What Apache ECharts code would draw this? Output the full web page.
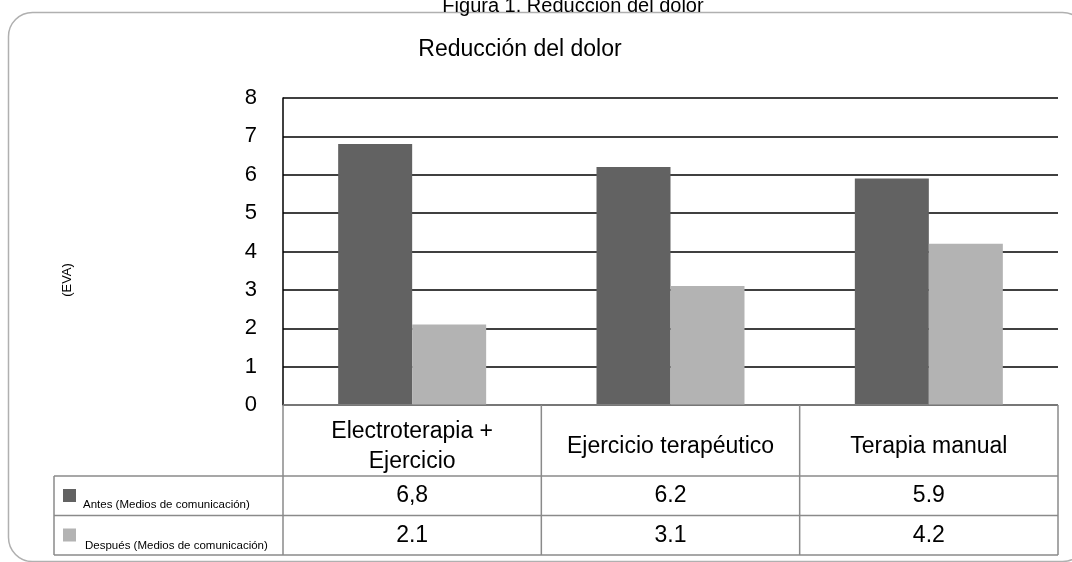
<!DOCTYPE html>
<html>
<head>
<meta charset="utf-8">
<script src="https://cdn.jsdelivr.net/npm/echarts@6/dist/echarts.min.js"></script>
<style>html,body{margin:0;padding:0;background:#fff;}#c{width:1072px;height:562px;}</style>
</head>
<body>
<div id="c"></div>
<script>
const categories = ['Electroterapia +\nEjercicio', 'Ejercicio terapéutico', 'Terapia manual'];
const antes = [6.8, 6.2, 5.9];
const despues = [2.1, 3.1, 4.2];
const antesText = ['6,8', '6.2', '5.9'];
const despuesText = ['2.1', '3.1', '4.2'];
const seriesNames = ['Antes (Medios de comunicación)', 'Después (Medios de comunicación)'];
const yMin = 0, yMax = 8, yStep = 1;

const FONT = '"Liberation Sans", Arial, sans-serif';
const DARK = '#626262', LIGHT = '#b3b3b3', TBL = '#8a8a8a';

const chart = echarts.init(document.getElementById('c'), null, {renderer: 'canvas'});
chart.setOption({
  animation: false,
  textStyle: {fontFamily: FONT},
  grid: {left: 283, right: 14, top: 98, bottom: 157},
  xAxis: {
    type: 'category', data: categories,
    axisLine: {show: false}, axisTick: {show: false}, axisLabel: {show: false}
  },
  yAxis: {
    type: 'value', min: yMin, max: yMax, interval: yStep,
    axisLine: {show: true, lineStyle: {color: '#000', width: 1.5}},
    axisTick: {show: false},
    axisLabel: {color: '#000', fontSize: 22, margin: 26, fontFamily: FONT},
    splitLine: {show: true, lineStyle: {color: '#000', width: 1.5}}
  },
  series: [
    {name: seriesNames[0], type: 'bar', data: antes, barWidth: 74, barGap: '0%', itemStyle: {color: DARK}, z: 3},
    {name: seriesNames[1], type: 'bar', data: despues, barWidth: 74, barGap: '0%', itemStyle: {color: LIGHT}, z: 3}
  ]
});

// Build table and decorations from axis coordinates
const xs = categories.map((c, i) => chart.convertToPixel({xAxisIndex: 0}, i));
const band = xs[1] - xs[0];
const x0 = xs[0] - band / 2;
const xEnd = xs[xs.length - 1] + band / 2;
const y0 = chart.convertToPixel({yAxisIndex: 0}, yMin);
const rowH1 = 71, rowH = 39.5;
const r1 = y0 + rowH1, r2 = r1 + rowH, r3 = r2 + rowH;
const tableLeft = 54;

const g = [];
const line = (xa, ya, xb, yb, color, w) => g.push({type: 'line', z: 50, shape: {x1: xa, y1: ya, x2: xb, y2: yb}, style: {stroke: color, lineWidth: w}});

// outer rounded frame
g.push({type: 'rect', z: 1, shape: {x: 8.5, y: 12.5, width: 1078, height: 549, r: 24}, style: {fill: 'none', stroke: '#b0b0b0', lineWidth: 1.5}});

// table lines
line(x0, y0, xEnd, y0, TBL, 1.5);
line(tableLeft, r1, xEnd, r1, TBL, 1.5);
line(tableLeft, r2, xEnd, r2, TBL, 1.5);
line(tableLeft, r3, xEnd, r3, TBL, 1.5);
line(tableLeft, r1, tableLeft, r3, TBL, 1.5);
for (let i = 0; i <= categories.length; i++) {
  const x = x0 + i * band;
  line(x, y0, x, r3, TBL, 1.5);
}
// table text
categories.forEach((c, i) => {
  g.push({type: 'text', z: 51, x: xs[i], y: y0 + 42, style: {text: c, fill: '#000', font: '23px ' + FONT, align: 'center', verticalAlign: 'middle', lineHeight: 30}});
  g.push({type: 'text', z: 51, x: xs[i], y: (r1 + r2) / 2, style: {text: antesText[i], fill: '#000', font: '23px ' + FONT, align: 'center', verticalAlign: 'middle'}});
  g.push({type: 'text', z: 51, x: xs[i], y: (r2 + r3) / 2, style: {text: despuesText[i], fill: '#000', font: '23px ' + FONT, align: 'center', verticalAlign: 'middle'}});
});
// legend keys in table
g.push({type: 'rect', z: 51, shape: {x: 63, y: r1 + 13, width: 13, height: 13}, style: {fill: DARK}});
g.push({type: 'text', z: 51, x: 83, y: r1 + 35, style: {text: seriesNames[0], fill: '#000', font: '11.5px ' + FONT, align: 'left', verticalAlign: 'bottom'}});
g.push({type: 'rect', z: 51, shape: {x: 63, y: r2 + 13, width: 13, height: 13}, style: {fill: LIGHT}});
g.push({type: 'text', z: 51, x: 85, y: r2 + 36, style: {text: seriesNames[1], fill: '#000', font: '11.5px ' + FONT, align: 'left', verticalAlign: 'bottom'}});

// titles
g.push({type: 'text', z: 51, x: 573, y: 6, style: {text: 'Figura 1. Reducción del dolor', fill: '#000', font: '20px ' + FONT, align: 'center', verticalAlign: 'middle'}});
g.push({type: 'text', z: 51, x: 520, y: 50, style: {text: 'Reducción del dolor', fill: '#000', font: '23px ' + FONT, align: 'center', verticalAlign: 'middle'}});
// y axis name
g.push({type: 'text', z: 51, x: 67, y: 280, rotation: Math.PI / 2, style: {text: '(EVA)', fill: '#000', font: '13px ' + FONT, align: 'center', verticalAlign: 'middle'}});

chart.setOption({graphic: {elements: g}});
</script>
</body>
</html>
